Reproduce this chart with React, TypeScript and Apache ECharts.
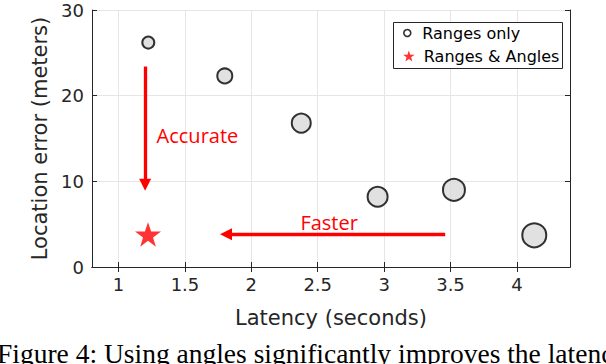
import React, { useEffect, useRef } from "react";
import * as echarts from "echarts";

// Ranges only (circles): latency (s), location error (m), marker size
const rangesLatency = [1.224, 1.8, 2.376, 2.951, 3.526, 4.131];
const rangesError = [26.2, 22.3, 16.8, 8.2, 9.0, 3.7];
const rangesMarkerSize = [12, 15, 19, 20, 22, 24];

// Ranges & Angles (star)
const anglesLatency = [1.222];
const anglesError = [3.8];

// Axis ticks
const xTicks = [1, 1.5, 2, 2.5, 3, 3.5, 4];
const yTicks = [0, 10, 20, 30];

// Annotations
const annotationNames = ["Accurate", "Faster"];
const annotationCoords = [
  [1.594, 15.3],
  [2.586, 5.25],
];
const arrowStarts = [
  [1.2, 23.4],
  [3.46, 3.82],
];
const arrowEnds = [
  [1.2, 9.6],
  [1.809, 3.82],
];

const STAR =
  "path://M50,0 L61.8,35.1 L98.9,35.1 L68.8,57.3 L79.4,91.9 L50,70 L20.6,91.9 L31.2,57.3 L1.1,35.1 L38.2,35.1 Z";

const AXIS_COLOR = "#262626";
const FONT = "DejaVu Sans";

export default function App() {
  const ref = useRef<HTMLDivElement>(null);

  useEffect(() => {
    if (!ref.current) return;
    const chart = echarts.init(ref.current, null, { renderer: "svg" });

    const rangesData = rangesLatency.map((x, i) => [x, rangesError[i], rangesMarkerSize[i]]);
    const anglesData = anglesLatency.map((x, i) => [x, anglesError[i]]);

    const baseAxis = {
      axisLine: { show: true, lineStyle: { color: AXIS_COLOR, width: 1 } },
      axisTick: { show: true, inside: true, length: 5, lineStyle: { color: AXIS_COLOR } },
    };

    chart.setOption({
      animation: false,
      backgroundColor: "#fff",
      grid: { left: 92, top: 10, right: 36, bottom: 97, containLabel: false },
      xAxis: [
        {
          type: "value",
          min: 0.8,
          max: 4.4,
          position: "bottom",
          ...baseAxis,
          axisTick: { ...baseAxis.axisTick, customValues: xTicks },
          axisLabel: {
            customValues: xTicks,
            color: AXIS_COLOR,
            fontFamily: FONT,
            fontSize: 18,
            margin: 8,
          },
          splitLine: { show: true, lineStyle: { color: "#e6e6e6", width: 1 } },
          name: "Latency (seconds)",
          nameLocation: "middle",
          nameGap: 40,
          nameTextStyle: { color: AXIS_COLOR, fontFamily: FONT, fontSize: 21 },
        },
        {
          type: "value",
          min: 0.8,
          max: 4.4,
          position: "top",
          ...baseAxis,
          axisTick: { ...baseAxis.axisTick, customValues: xTicks },
          axisLabel: { show: false },
          splitLine: { show: false },
        },
      ],
      yAxis: [
        {
          type: "value",
          min: 0,
          max: 30,
          interval: 10,
          position: "left",
          ...baseAxis,
          axisLabel: {
            color: AXIS_COLOR,
            fontFamily: FONT,
            fontSize: 18,
            margin: 8,
            customValues: yTicks,
          },
          splitLine: { show: true, lineStyle: { color: "#e6e6e6", width: 1 } },
          name: "Location error (meters)",
          nameLocation: "middle",
          nameGap: 33,
          nameTextStyle: { color: AXIS_COLOR, fontFamily: FONT, fontSize: 21 },
        },
        {
          type: "value",
          min: 0,
          max: 30,
          interval: 10,
          position: "right",
          ...baseAxis,
          axisLabel: { show: false },
          splitLine: { show: false },
        },
      ],
      legend: [
        {
          data: [
            {
              name: "Ranges only",
              icon: "circle",
              itemStyle: { color: "#fff", borderColor: "#000", borderWidth: 1.6 },
            },
          ],
          left: 403,
          top: 25,
          padding: 0,
          itemWidth: 20,
          itemHeight: 7,
          selectedMode: false,
          textStyle: { fontFamily: FONT, fontSize: 16, color: "#000" },
        },
        {
          data: [
            {
              name: "Ranges & Angles",
              icon: STAR,
              itemStyle: { color: "#ff0000", borderWidth: 0 },
            },
          ],
          left: 403,
          top: 48,
          padding: 0,
          itemWidth: 20,
          itemHeight: 11,
          selectedMode: false,
          textStyle: { fontFamily: FONT, fontSize: 16, color: "#000" },
        },
      ],
      graphic: [
        {
          type: "rect",
          z: 3,
          shape: { x: 393.5, y: 22.5, width: 169, height: 46 },
          style: { fill: "#fff", stroke: AXIS_COLOR, lineWidth: 1 },
        },
        {
          type: "text",
          x: -3,
          y: 353,
          z: 10,
          style: {
            text: "Figure 4: Using angles significantly improves the latency",
            fontFamily: "Liberation Serif",
            fontSize: 27.5,
            fill: "#000",
            verticalAlign: "middle",
            align: "left",
          },
        },
      ],
      series: [
        {
          name: "Ranges only",
          type: "scatter",
          xAxisIndex: 0,
          yAxisIndex: 0,
          data: rangesData,
          symbol: "circle",
          symbolSize: (v: number[]) => v[2],
          itemStyle: { color: "#d9d9d9", borderColor: "#000", borderWidth: 2 },
          emphasis: { disabled: true },
          z: 2,
        },
        {
          name: "Ranges & Angles",
          type: "scatter",
          xAxisIndex: 0,
          yAxisIndex: 0,
          data: anglesData,
          symbol: STAR,
          symbolKeepAspect: true,
          symbolSize: 26,
          itemStyle: { color: "#ff0000" },
          emphasis: { disabled: true },
          z: 2,
          markLine: {
            silent: true,
            symbol: ["none", "triangle"],
            symbolSize: 12,
            label: { show: false },
            lineStyle: { color: "#ff0000", width: 3.3, type: "solid" },
            emphasis: { disabled: true },
            data: arrowStarts.map((s, i) => [{ coord: s }, { coord: arrowEnds[i] }]),
          },
          markPoint: {
            silent: true,
            symbol: "circle",
            symbolSize: 0,
            label: {
              show: true,
              position: "inside",
              formatter: "{b}",
              color: "#ff0000",
              fontFamily: "Open Sans",
              fontSize: 20,
            },
            data: annotationNames.map((n, i) => ({ name: n, coord: annotationCoords[i] })),
          },
        },
      ],
    });

    return () => chart.dispose();
  }, []);

  return (
    <div
      ref={ref}
      style={{ position: "fixed", left: 0, top: 0, width: 606, height: 364, background: "#fff" }}
    />
  );
}
